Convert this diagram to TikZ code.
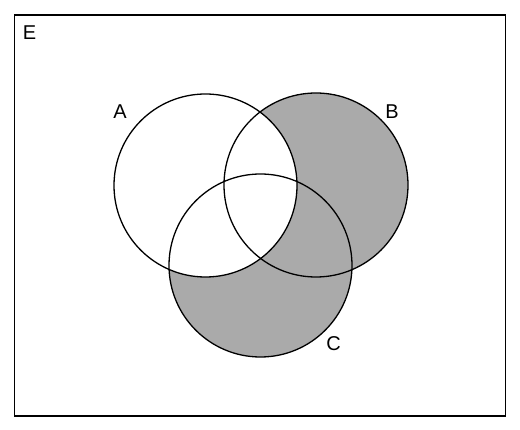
\documentclass[tikz,border=0pt]{standalone}
\usepackage{fontspec}
\setmainfont{Liberation Sans}
\definecolor{regiongray}{RGB}{170,170,170}
\begin{document}
\begin{tikzpicture}[x=1pt,y=-1pt,
  setline/.style={draw=black,line width=1.3pt},
  frameline/.style={draw=black,line width=1.6pt},
  lbl/.style={inner sep=0pt,font=\fontsize{20}{24}\selectfont}]
\useasboundingbox (0,0) rectangle (520,430);
\fill[white] (0,0) rectangle (520,430);
\coordinate (ca) at (205.5,185.5);
\coordinate (cb) at (316,185);
\coordinate (cc) at (260.5,265.5);
\def\ra{91.5}
\def\rb{92}
\def\rc{91.5}
% shaded (B union C) minus A
\begin{scope}[even odd rule]
  \clip (ca) circle[radius=\ra] (0,0) rectangle (520,430);
  \fill[regiongray] (cb) circle[radius=\rb];
  \fill[regiongray] (cc) circle[radius=\rc];
\end{scope}
\node[frameline,draw,minimum width=491,minimum height=401,inner sep=0pt] (E) at (260,215.5) {};
\draw[setline] (ca) circle[radius=\ra];
\draw[setline] (cb) circle[radius=\rb];
\draw[setline] (cc) circle[radius=\rc];
\node[lbl] (le) at (29.5,32.5) {E};
\node[lbl] (la) at (120,111.5) {A};
\node[lbl] (lb) at (392,111.5) {B};
\node[lbl] (lc) at (333.5,343.5) {C};
\end{tikzpicture}
\end{document}
